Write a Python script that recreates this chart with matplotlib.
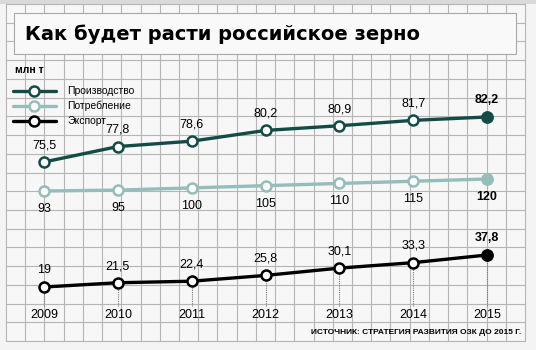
import matplotlib
matplotlib.use('Agg')
import matplotlib.pyplot as plt
from matplotlib.patches import Rectangle
from matplotlib import transforms

plt.rcParams['font.family'] = ['Liberation Sans', 'DejaVu Sans']

# данные
years = [2009, 2010, 2011, 2012, 2013, 2014, 2015]
production = [75.5, 77.8, 78.6, 80.2, 80.9, 81.7, 82.2]
consumption = [93, 95, 100, 105, 110, 115, 120]
export = [19, 21.5, 22.4, 25.8, 30.1, 33.3, 37.8]

names = ['Производство', 'Потребление', 'Экспорт']
colors = ['#134c47', '#94bdbb', '#000000']
title = 'Как будет расти российское зерно'
unit = 'млн т'
source = 'ИСТОЧНИК: СТРАТЕГИЯ РАЗВИТИЯ ОЗК ДО 2015 Г.'

W, H = 536, 350
fig = plt.figure(figsize=(W / 100, H / 100), dpi=100)
fig.patch.set_facecolor('#f4f4f4')

# фон в пикселях
bg = fig.add_axes([0, 0, 1, 1])
bg.set_xlim(0, W)
bg.set_ylim(H, 0)
bg.axis('off')
bg.add_patch(Rectangle((0, 0), W, 4, color='#dadada', lw=0))
gx0, gx1, gy0, gy1 = 6, 525, 4, 341
bg.add_patch(Rectangle((gx0, gy0), gx1 - gx0, gy1 - gy0, facecolor='#f7f7f7', lw=0))
for i in range(28):
    x = gx0 + i * (gx1 - gx0) / 27
    bg.plot([x, x], [gy0, gy1], color='#b5b5b5', lw=0.8)
for j in range(19):
    y = gy0 + j * (gy1 - gy0) / 18
    bg.plot([gx0, gx1], [y, y], color='#b5b5b5', lw=0.8)

# плашка заголовка
bg.add_patch(Rectangle((14, 13), 502, 41, facecolor='#f9f9f9', edgecolor='#a8a8a8', lw=0.8, zorder=3))
bg.text(25, 34, title, fontsize=14, fontweight='bold', family='DejaVu Sans',
        va='center', ha='left', zorder=4)
bg.text(15, 70, unit, fontsize=7.5, fontweight='bold', va='center', ha='left')

# легенда
for k, (name, c) in enumerate(zip(names, colors)):
    y = 91 + k * 15
    bg.plot([13, 56], [y, y], color=c, lw=2.4, solid_capstyle='round')
    bg.plot([34], [y], 'o', ms=7.2, mfc='white', mec=c, mew=1.8)
    bg.text(67, y, name, fontsize=7.5, va='center', ha='left')


def series_axes(top_px, bottom_px, vals):
    a = fig.add_axes([44 / W, 1 - bottom_px / H, 443 / W, (bottom_px - top_px) / H])
    a.set_xlim(years[0], years[-1])
    a.set_ylim(min(vals), max(vals))
    a.axis('off')
    a.patch.set_alpha(0)
    return a


def draw(a, vals, c, dy):
    a.plot(years, vals, color=c, lw=2.4, clip_on=False, zorder=3)
    a.plot(years[:-1], vals[:-1], 'o', ms=7.2, mfc='white', mec=c, mew=1.8,
           clip_on=False, zorder=4)
    a.plot(years[-1:], vals[-1:], 'o', ms=8.2, mfc=c, mec=c, mew=1.0,
           clip_on=False, zorder=4)
    for i, (x, v) in enumerate(zip(years, vals)):
        last = i == len(vals) - 1
        txt = ('%g' % v).replace('.', ',')
        a.annotate(txt, (x, v), xytext=(0, dy), textcoords='offset points',
                   ha='center', va='center', fontsize=9,
                   fontweight='bold' if last else 'normal')


ax_p = series_axes(117, 162, production)
ax_c = series_axes(179, 191, consumption)
ax_e = series_axes(255, 287, export)

draw(ax_p, production, colors[0], 12)
draw(ax_c, consumption, colors[1], -13)

# пунктир от экспорта к годам
inv = ax_e.transData.inverted()
y_low = inv.transform(bg.transData.transform((0, 306)))[1]
ax_e.vlines(years, y_low, export, colors='#777777', lw=0.8, linestyles=(0, (1, 1)),
            clip_on=False, zorder=2)
draw(ax_e, export, colors[2], 12)

tr = transforms.blended_transform_factory(ax_e.transData, bg.transData)
for x in years:
    bg.text(x, 315, str(x), transform=tr, ha='center', va='center', fontsize=9)

bg.text(521, 333, source, fontsize=6, fontweight='bold', ha='right', va='center')

fig.savefig('out.png', dpi=100, facecolor=fig.get_facecolor())
